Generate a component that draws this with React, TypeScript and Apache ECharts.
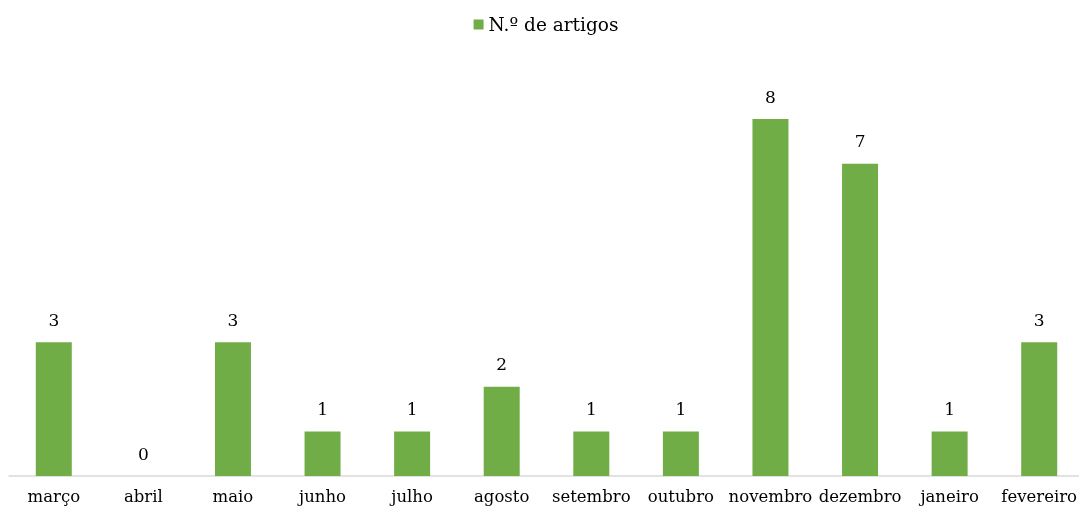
import React, { useEffect, useRef } from "react";
import * as echarts from "echarts";

const categories = ["março", "abril", "maio", "junho", "julho", "agosto", "setembro", "outubro", "novembro", "dezembro", "janeiro", "fevereiro"];
const articleCounts = [3, 0, 3, 1, 1, 2, 1, 1, 8, 7, 1, 3];
const seriesName = "N.º de artigos";

const FONT = "DejaVu Serif";

export default function App() {
  const ref = useRef<HTMLDivElement>(null);
  useEffect(() => {
    if (!ref.current) return;
    const chart = echarts.init(ref.current, undefined, { renderer: "svg" });
    chart.setOption({
      animation: false,
      textStyle: { fontFamily: FONT },
      legend: {
        data: [seriesName],
        top: 2,
        left: "center",
        itemWidth: 10,
        itemHeight: 10,
        itemGap: 5,
        icon: "rect",
        textStyle: { fontFamily: FONT, fontSize: 18.5, color: "#000" },
      },
      grid: { left: 1, top: 66.4, right: 0, bottom: 31, containLabel: false },
      xAxis: {
        type: "category",
        data: categories,
        axisLine: { show: true, lineStyle: { color: "#d9d9d9", width: 1.5 } },
        axisTick: { show: false },
        axisLabel: { fontFamily: FONT, fontSize: 16.5, color: "#000", margin: 12, interval: 0 },
      },
      yAxis: {
        type: "value",
        min: 0,
        max: 9,
        interval: 1,
        show: false,
        splitLine: { show: false },
      },
      series: [
        {
          name: seriesName,
          type: "bar",
          data: articleCounts,
          barWidth: 36,
          itemStyle: { color: "#70AD47" },
          label: {
            show: true,
            position: "top",
            distance: 14,
            fontFamily: FONT,
            fontSize: 17,
            color: "#000",
          },
        },
      ],
    });
    return () => chart.dispose();
  }, []);
  return (
    <div style={{ position: "fixed", left: 8, top: 8, width: 1071, height: 499, overflow: "hidden" }}>
      <div ref={ref} style={{ width: 1076, height: 499 }} />
    </div>
  );
}
